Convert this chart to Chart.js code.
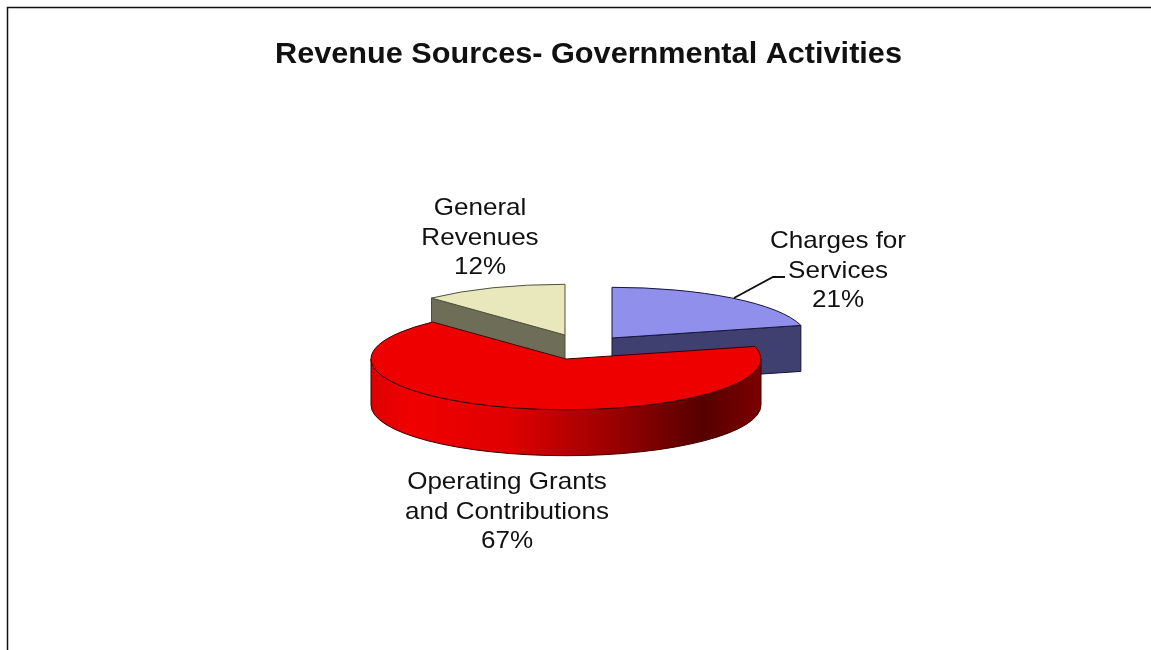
<!DOCTYPE html>
<html>
<head>
<meta charset="utf-8">
<title>Revenue Sources</title>
<script src="https://cdn.jsdelivr.net/npm/chart.js@4"></script>
<style>
  html, body { margin: 0; padding: 0; background: #fff; overflow: hidden; }
  canvas { display: block; filter: blur(0.4px); }
</style>
</head>
<body>
<canvas id="chart" width="1151" height="650"></canvas>
<script>
const chartTitle = 'Revenue Sources- Governmental Activities';
const categories = ['Charges for Services', 'Operating Grants and Contributions', 'General Revenues'];
const shares = [21, 67, 12];
const labelLines = [['Charges for', 'Services'], ['Operating Grants', 'and Contributions'], ['General', 'Revenues']];

// look of the fake 3d pie
const topColors = ['#9090ec', '#ee0000', '#e8e8bc'];
const wallColors = ['#3f3f70', '#a00000', '#6e6e58'];
const edgeColors = ['#14143c', '#3c0000', '#50503c'];
const apexes = [{ x: 612, y: 338 }, { x: 566, y: 359 }, { x: 565, y: 335 }];
const labelSpots = [{ x: 838, y: 248 }, { x: 507, y: 489 }, { x: 480, y: 215 }];
const squash = 0.26;
const depth = 46;
const lineGap = 29.5;
// the reference text is wider than any installed font at its height
const titleStretch = 1.057;
const labelStretch = 1.085;
const titleCenter = 588.5;

const pie3d = {
  id: 'pie3d',
  beforeDraw(chart) {
    const ctx = chart.ctx;
    ctx.save();
    ctx.strokeStyle = '#111';
    ctx.lineWidth = 1.5;
    ctx.beginPath();
    ctx.moveTo(7.5, 650);
    ctx.lineTo(7.5, 7.5);
    ctx.lineTo(1151, 7.5);
    ctx.stroke();
    ctx.restore();
    // stays on until the datasets start, so only the title box is stretched
    ctx.save();
    ctx.translate(titleCenter, 0);
    ctx.scale(titleStretch, 1);
    ctx.translate(-titleCenter, 0);
  },
  // the library's arcs get drawn here one by one, each moved to its own apex
  beforeDatasetDraw(chart, args) {
    const ctx = chart.ctx;
    const arcs = args.meta.data;
    ctx.restore();

    [0, 2, 1].forEach(i => drawWalls(ctx, arcs[i], i));

    arcs.forEach((arc, i) => {
      ctx.save();
      ctx.translate(apexes[i].x, apexes[i].y);
      ctx.scale(1, squash);
      ctx.translate(-arc.x, -arc.y);
      arc.draw(ctx);
      ctx.restore();

      const r = arc.outerRadius;
      ctx.save();
      ctx.strokeStyle = edgeColors[i];
      ctx.lineWidth = 1;
      ctx.beginPath();
      ctx.moveTo(apexes[i].x, apexes[i].y);
      ctx.ellipse(apexes[i].x, apexes[i].y, r, r * squash, 0, arc.startAngle, arc.endAngle);
      ctx.closePath();
      ctx.stroke();
      ctx.restore();
    });

    drawLeader(ctx);
    drawLabels(ctx);
    ctx.save();
    return false;
  },
  afterDraw(chart) {
    chart.ctx.restore();
  }
};

function drawWalls(ctx, arc, i) {
  const p = apexes[i];
  const r = arc.outerRadius;
  const ry = r * squash;
  ctx.save();
  ctx.fillStyle = wallColors[i];
  ctx.strokeStyle = edgeColors[i];
  ctx.lineWidth = 1;

  // flat cut faces that look towards the viewer
  [[arc.endAngle, 0.01], [arc.startAngle, -0.01]].forEach(([angle, side]) => {
    if (Math.cos(angle) * side <= 0.0001) return;
    const ex = p.x + Math.cos(angle) * r;
    const ey = p.y + Math.sin(angle) * ry;
    ctx.beginPath();
    ctx.moveTo(p.x, p.y);
    ctx.lineTo(ex, ey);
    ctx.lineTo(ex, ey + depth);
    ctx.lineTo(p.x, p.y + depth);
    ctx.closePath();
    ctx.fill();
    ctx.stroke();
  });

  // front rim
  const from = Math.max(arc.startAngle, 0);
  const to = Math.min(arc.endAngle, Math.PI);
  if (to > from) {
    const g = ctx.createLinearGradient(p.x - r, 0, p.x + r, 0);
    g.addColorStop(0, '#dd0000');
    g.addColorStop(0.1, '#f00000');
    g.addColorStop(0.35, '#e00000');
    g.addColorStop(0.6, '#a00000');
    g.addColorStop(0.85, '#560000');
    g.addColorStop(1, '#7c0000');
    ctx.fillStyle = g;
    ctx.beginPath();
    ctx.ellipse(p.x, p.y, r, ry, 0, from, to);
    ctx.ellipse(p.x, p.y + depth, r, ry, 0, to, from, true);
    ctx.closePath();
    ctx.fill();
    ctx.stroke();
  }
  ctx.restore();
}

function drawLeader(ctx) {
  ctx.save();
  ctx.strokeStyle = '#111';
  ctx.lineWidth = 1.8;
  ctx.beginPath();
  ctx.moveTo(734, 298);
  ctx.lineTo(773, 277);
  ctx.lineTo(785, 277);
  ctx.stroke();
  ctx.restore();
}

function drawLabels(ctx) {
  ctx.fillStyle = '#111';
  ctx.font = '24px "Liberation Sans"';
  ctx.textAlign = 'center';
  ctx.textBaseline = 'alphabetic';
  categories.forEach((name, i) => {
    const lines = [...labelLines[i], shares[i] + '%'];
    lines.forEach((line, n) => {
      ctx.save();
      ctx.translate(labelSpots[i].x, labelSpots[i].y + n * lineGap);
      ctx.scale(labelStretch, 1);
      ctx.fillText(line, 0, 0);
      ctx.restore();
    });
  });
}

new Chart(document.getElementById('chart'), {
  type: 'pie',
  data: {
    labels: categories,
    datasets: [{
      data: shares,
      backgroundColor: topColors,
      borderWidth: 0,
      radius: 195
    }]
  },
  options: {
    responsive: false,
    animation: false,
    layout: { padding: { left: 26 } },
    plugins: {
      legend: { display: false },
      tooltip: { enabled: false },
      title: {
        display: true,
        text: chartTitle,
        color: '#111',
        font: { family: '"Liberation Sans"', size: 29, weight: 'bold' },
        padding: { top: 37.5, bottom: 10 }
      }
    }
  },
  plugins: [pie3d]
});
</script>
</body>
</html>
